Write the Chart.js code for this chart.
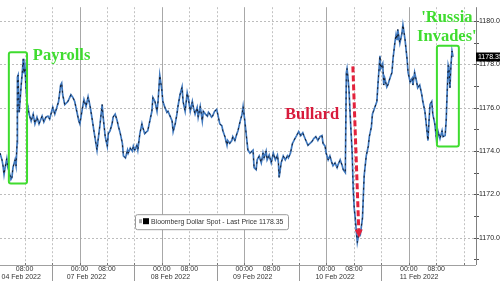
<!DOCTYPE html>
<html>
<head>
<meta charset="utf-8">
<script src="https://cdn.jsdelivr.net/npm/chart.js@4.4.1/dist/chart.umd.min.js"></script>
<style>
  html, body { margin: 0; padding: 0; background: #fff; }
  #wrap { width: 500px; height: 281px; }
</style>
</head>
<body>
<div id="wrap"><canvas id="chart" width="500" height="281"></canvas></div>
<script>
// hours counted in trading time from 04 Feb 2022 00:00 (weekend skipped)
const hours = [
  0.8, 1.4, 1.7, 2.0, 2.3, 2.8, 3.1, 3.4, 4.0, 4.3, 4.6, 5.2, 5.5, 5.8, 5.9, 6.1, 6.4, 6.7, 7.0, 7.3,
  7.6, 7.8, 8.1, 8.4, 8.7, 9.3, 9.9, 10.5, 11.0, 11.6, 12.2, 13.1, 13.6, 14.2, 14.8,
  15.3, 16.2, 16.8, 17.4, 17.9, 18.5, 18.8, 19.1, 19.7, 20.6, 21.5, 22.1, 22.6, 23.2, 23.8, 24.1, 24.7, 25.3, 25.9, 26.5,
  27.1, 27.6, 28.2, 29.1, 29.4, 30.0, 30.6, 30.9, 31.5, 32.1, 32.4, 32.9, 33.5, 33.8, 34.4, 35.0, 35.3, 35.9, 36.5, 36.8,
  37.4, 38.0, 38.2, 38.8, 39.4, 39.7,
  40.1, 40.7, 41.0, 41.6, 42.2, 42.4, 43.0, 43.6, 43.9, 44.5, 45.1, 45.4, 46.0, 46.6, 46.9, 47.4, 48.0, 48.3, 48.9, 49.5,
  49.8, 50.4, 51.0, 51.3, 51.9, 52.4, 52.7, 53.3, 53.9, 54.2, 54.8, 55.4, 55.7, 56.3, 56.9, 57.2, 57.7, 58.3, 58.6, 59.2,
  59.8, 60.1, 60.7, 61.3, 61.6,
  62.0, 62.5, 62.8, 63.4, 64.0, 64.3, 64.9, 65.5, 65.8, 66.4, 67.0, 67.2, 67.8, 68.4, 68.7, 69.3, 69.9, 70.2, 70.8, 71.4,
  71.7, 72.2, 72.8, 73.1, 73.7, 74.6, 74.9, 75.5, 75.8, 76.4, 77.0, 77.5, 77.8, 78.4, 78.7, 79.3, 79.9, 80.5, 81.1, 81.7,
  82.0, 82.2, 82.8, 83.4, 84.0, 84.6, 84.9, 85.5, 86.1, 86.4,
  86.8, 87.3, 87.6, 87.9, 88.5, 89.1, 89.4, 90.0, 90.6, 91.2, 91.8, 92.3, 92.9, 93.5, 94.1, 94.7, 95.0, 95.6, 95.9, 96.5,
  97.0, 97.6, 97.9, 98.5, 99.1, 99.4, 100.0, 100.6, 100.9, 101.5, 101.8, 102.0, 102.3, 102.6, 102.9, 103.2, 103.5, 103.8, 104.1, 104.4,
  104.7, 105.0, 105.6, 105.9, 106.5, 106.8, 107.0, 107.6, 108.2, 108.5, 109.1, 109.4, 109.7,
  110.7, 111.0, 111.6, 111.8, 112.4, 112.7, 113.0, 113.6, 113.9, 114.5, 115.1, 115.4, 116.0, 116.3, 116.6, 116.8, 117.4, 118.0, 118.3, 118.9,
  119.5, 119.8, 120.4, 121.0,
  121.2, 121.7, 122.3, 122.6, 123.2, 123.8, 124.1, 124.7, 125.3, 125.6, 125.9, 126.2, 126.7, 127.0, 127.6, 128.2, 128.5, 129.1, 129.7, 130.0,
  130.6, 130.9, 131.2, 131.5, 131.7, 132.0, 132.3, 132.6, 132.9
];
const price = [
  1173.90, 1173.59, 1173.32, 1172.92, 1173.23, 1173.64, 1173.23, 1173.10, 1172.69, 1172.78, 1173.23, 1173.59, 1173.32, 1174.35, 1177.40, 1177.49, 1175.78, 1176.37, 1177.04, 1177.58,
  1178.25, 1177.58, 1177.85, 1176.91, 1176.28, 1175.70, 1175.38, 1175.70, 1175.25, 1175.56, 1175.25, 1175.61, 1175.34, 1175.56, 1175.61,
  1175.47, 1176.01, 1175.70, 1176.01, 1176.28, 1177.04, 1177.13, 1176.59, 1176.14, 1176.28, 1176.59, 1176.46, 1176.28, 1175.83, 1175.38, 1175.25, 1175.83, 1176.37, 1176.05, 1176.50,
  1176.05, 1175.56, 1174.93, 1174.04, 1174.48, 1175.25, 1176.14, 1175.56, 1174.66, 1174.22, 1174.80, 1174.93, 1175.25, 1175.56, 1175.70, 1175.38, 1175.16, 1174.80, 1174.35, 1173.77,
  1173.68, 1174.04, 1173.90, 1174.13, 1173.99, 1174.22,
  1174.04, 1174.26, 1174.04, 1174.80, 1175.25, 1175.11, 1174.80, 1174.89, 1174.93, 1175.38, 1175.83, 1176.46, 1176.28, 1175.83, 1176.28, 1177.49, 1176.82, 1176.28, 1176.01, 1175.78,
  1175.83, 1175.61, 1175.38, 1174.89, 1175.25, 1175.70, 1176.05, 1176.59, 1176.95, 1176.28, 1175.83, 1176.68, 1176.46, 1175.83, 1176.28, 1176.01, 1175.70, 1176.01, 1175.56, 1176.05,
  1175.38, 1175.83, 1175.70, 1175.61, 1175.78,
  1175.70, 1175.56, 1175.61, 1175.83, 1175.92, 1175.70, 1175.25, 1175.16, 1174.93, 1174.66, 1174.26, 1174.48, 1174.35, 1174.48, 1174.66, 1174.48, 1174.80, 1174.93, 1175.34, 1175.70,
  1176.05, 1175.38, 1174.48, 1174.04, 1173.90, 1174.04, 1173.23, 1173.14, 1173.59, 1173.77, 1173.45, 1173.90, 1173.68, 1173.99, 1173.59, 1173.81, 1173.45, 1173.90, 1173.59, 1173.81,
  1173.45, 1172.78, 1173.45, 1173.77, 1173.59, 1173.77, 1173.68, 1173.90, 1174.35, 1174.44,
  1174.57, 1174.71, 1174.80, 1174.89, 1174.71, 1174.84, 1174.71, 1174.48, 1174.26, 1174.35, 1174.44, 1174.57, 1174.66, 1174.48, 1174.66, 1174.71, 1174.35, 1174.22, 1173.90, 1173.59,
  1173.77, 1173.45, 1173.32, 1173.45, 1173.23, 1173.37, 1173.59, 1173.32, 1173.14, 1173.00, 1177.62, 1177.80, 1177.35, 1176.73, 1175.70, 1174.80, 1173.90, 1172.24, 1171.35, 1170.90,
  1170.31, 1169.78, 1170.31, 1170.18, 1170.90, 1172.11, 1172.87, 1173.77, 1174.22, 1174.66, 1175.11, 1175.70, 1175.83,
  1176.28, 1177.04, 1178.39, 1177.80, 1178.03, 1177.04, 1177.35, 1176.95, 1177.04, 1177.35, 1177.62, 1178.25, 1179.06, 1179.37, 1179.15, 1179.60, 1178.97, 1179.42, 1179.82, 1179.15,
  1178.25, 1177.62, 1177.18, 1177.35,
  1177.04, 1177.62, 1177.18, 1176.91, 1177.04, 1176.59, 1176.28, 1175.83, 1174.93, 1174.48, 1175.38, 1176.14, 1176.28, 1175.70, 1175.25, 1174.35, 1174.93, 1174.57, 1174.93, 1174.66,
  1174.71, 1175.38, 1176.73, 1177.94, 1177.80, 1176.91, 1177.94, 1178.61, 1178.35
];
const lastPrice = 1178.35;
const seriesName = 'Bloomberg Dollar Spot - Last Price';

const yTicks = [1169, 1170, 1171, 1172, 1173, 1174, 1175, 1176, 1177, 1178, 1179, 1180];
const timeTicks = [8, 16, 24, 32, 40, 48, 56, 64, 72, 80, 88, 96, 104, 112, 120, 128, 136];
const dateTicks = [7, 26, 50.5, 74.5, 98.5, 123];
const dateLabels = ['04 Feb 2022', '07 Feb 2022', '08 Feb 2022', '09 Feb 2022', '10 Feb 2022', '11 Feb 2022'];
const sessionBreaks = [16, 40, 64, 88, 112];

// annotations, in data units
const payrollBox = { x0: 3.4, x1: 8.7, y0: 1172.5, y1: 1178.55 };
const russiaBox = { x0: 128.2, x1: 134.6, y0: 1174.2, y1: 1178.85 };
const bullardArrow = { x0: 103.7, y0: 1177.9, x1: 105.5, y1: 1170.0 };
const textNotes = [
  { text: 'Payrolls', x: 10.4, y: 1178.21, align: 'left', color: '#3fdc2f' },
  { text: 'Bullard', x: 83.9, y: 1175.47, align: 'left', color: '#d81b3c' },
  { text: "'Russia", x: 131.1, y: 1179.96, align: 'center', color: '#3fdc2f' },
  { text: "Invades'", x: 131.1, y: 1179.06, align: 'center', color: '#3fdc2f' }
];

const FONT = "'Liberation Sans', Arial, sans-serif";
const GREEN = '#3fdc2f';
const RED = '#e3223c';

const points = hours.map((h, i) => ({ x: h, y: price[i] }));

function roundRect(ctx, x, y, w, h, r) {
  ctx.beginPath();
  ctx.moveTo(x + r, y);
  ctx.arcTo(x + w, y, x + w, y + h, r);
  ctx.arcTo(x + w, y + h, x, y + h, r);
  ctx.arcTo(x, y + h, x, y, r);
  ctx.arcTo(x, y, x + w, y, r);
  ctx.closePath();
}

function line(ctx, x0, y0, x1, y1, color, dash) {
  ctx.strokeStyle = color;
  ctx.setLineDash(dash);
  ctx.beginPath();
  ctx.moveTo(x0, y0);
  ctx.lineTo(x1, y1);
  ctx.stroke();
}

// grid, axis lines and tick marks, placed with the chart's scales
const gridLines = {
  id: 'gridLines',
  beforeDatasetsDraw(chart) {
    const { ctx, chartArea: a } = chart;
    const xs = chart.scales.x, ys = chart.scales.y;
    ctx.save();
    ctx.lineWidth = 1;
    yTicks.forEach(v => {
      const py = Math.round(ys.getPixelForValue(v)) + 0.5;
      if (v % 2 === 0) line(ctx, a.left, py, a.right, py, '#bdbdbd', [2, 2]);
      line(ctx, a.right - 2, py, a.right + 3, py, '#555', []);
    });
    timeTicks.forEach(h => {
      const px = Math.round(xs.getPixelForValue(h)) + 0.5;
      if (h % 24 === 0) line(ctx, px, a.top, px, a.bottom, '#a8a8a8', []);
      else line(ctx, px, a.top, px, a.bottom, '#c2c2c2', [2, 2]);
      line(ctx, px, a.bottom - 2, px, a.bottom + 1, '#777', []);
    });
    sessionBreaks.forEach(h => {
      const px = Math.round(xs.getPixelForValue(h)) + 0.5;
      line(ctx, px, a.bottom, px, chart.height, '#9a9a9a', []);
    });
    line(ctx, a.left, a.bottom + 0.5, a.right, a.bottom + 0.5, '#a0a0a0', []);
    line(ctx, a.right + 0.5, a.top, a.right + 0.5, a.bottom, '#808080', []);
    ctx.restore();
  }
};

const extras = {
  id: 'extras',
  afterDraw(chart) {
    const { ctx, chartArea } = chart;
    const xs = chart.scales.x, ys = chart.scales.y;
    ctx.save();

    // green boxes
    ctx.strokeStyle = GREEN;
    ctx.lineWidth = 2;
    [payrollBox, russiaBox].forEach(b => {
      const x0 = xs.getPixelForValue(b.x0), x1 = xs.getPixelForValue(b.x1);
      const y0 = ys.getPixelForValue(b.y1), y1 = ys.getPixelForValue(b.y0);
      roundRect(ctx, x0, y0, x1 - x0, y1 - y0, 2);
      ctx.stroke();
    });

    // red dashed arrow
    const ax0 = xs.getPixelForValue(bullardArrow.x0), ay0 = ys.getPixelForValue(bullardArrow.y0);
    const ax1 = xs.getPixelForValue(bullardArrow.x1), ay1 = ys.getPixelForValue(bullardArrow.y1);
    const len = Math.hypot(ax1 - ax0, ay1 - ay0);
    const ux = (ax1 - ax0) / len, uy = (ay1 - ay0) / len;
    ctx.lineWidth = 3;
    line(ctx, ax0, ay0, ax1 - ux * 6, ay1 - uy * 6, RED, [6, 3]);
    ctx.setLineDash([]);
    ctx.fillStyle = RED;
    ctx.beginPath();
    ctx.moveTo(ax1, ay1);
    ctx.lineTo(ax1 - ux * 8 - uy * 4, ay1 - uy * 8 + ux * 4);
    ctx.lineTo(ax1 - ux * 8 + uy * 4, ay1 - uy * 8 - ux * 4);
    ctx.closePath();
    ctx.fill();

    // annotation texts
    ctx.font = "bold 16.5px 'Liberation Serif', 'DejaVu Serif', serif";
    ctx.textBaseline = 'alphabetic';
    textNotes.forEach(t => {
      ctx.fillStyle = t.color;
      ctx.textAlign = t.align;
      ctx.fillText(t.text, xs.getPixelForValue(t.x), ys.getPixelForValue(t.y));
    });

    // legend box
    const lx = chartArea.left + 135, ly = chartArea.top + 207;
    ctx.fillStyle = '#fff';
    ctx.strokeStyle = '#9a9a9a';
    ctx.lineWidth = 1;
    roundRect(ctx, lx + 0.5, ly + 0.5, 153, 15, 2);
    ctx.fill();
    ctx.stroke();
    ctx.fillStyle = '#a8a8a8';
    ctx.fillRect(lx + 4, ly + 5, 3, 4);
    ctx.fillStyle = '#000';
    ctx.fillRect(lx + 8, ly + 4, 6, 6);
    ctx.fillStyle = '#333';
    ctx.font = '6.9px ' + FONT;
    ctx.textAlign = 'left';
    ctx.textBaseline = 'middle';
    ctx.fillText(seriesName + ' ' + lastPrice.toFixed(2), lx + 16, ly + 8);

    // last price tag
    const py = ys.getPixelForValue(lastPrice);
    ctx.fillStyle = '#000';
    ctx.fillRect(chartArea.right, Math.round(py) - 4.5, chart.width - chartArea.right, 9);
    ctx.fillStyle = '#fff';
    ctx.font = '7px ' + FONT;
    ctx.fillText(lastPrice.toFixed(2), chartArea.right + 2, py);

    ctx.restore();
  }
};

new Chart(document.getElementById('chart'), {
  type: 'line',
  data: {
    datasets: [
      { data: points, borderColor: '#111118', borderWidth: 0.9, borderDash: [2, 4], pointRadius: 0, tension: 0, order: 1 },
      { data: points, borderColor: '#3f78be', borderWidth: 1.7, pointRadius: 0, tension: 0, order: 2 }
    ]
  },
  options: {
    responsive: false,
    animation: false,
    layout: { padding: 0 },
    plugins: { legend: { display: false }, tooltip: { enabled: false } },
    scales: {
      x: {
        type: 'linear',
        position: 'bottom',
        weight: 0,
        min: 0.82,
        max: 139.6,
        afterBuildTicks: s => { s.ticks = timeTicks.map(v => ({ value: v })); },
        afterFit: s => { s.height = 8; s.paddingLeft = 0; s.paddingRight = 0; },
        ticks: {
          autoSkip: false,
          maxRotation: 0,
          padding: 0,
          color: '#333',
          font: { family: FONT, size: 7 },
          callback: v => (v % 24 === 0 ? '00:00' : v % 24 === 8 ? '08:00' : '')
        },
        grid: { display: false, drawTicks: false },
        border: { display: false }
      },
      xd: {
        type: 'linear',
        position: 'bottom',
        weight: 1,
        min: 0.82,
        max: 139.6,
        afterBuildTicks: s => { s.ticks = dateTicks.map(v => ({ value: v })); },
        afterFit: s => { s.height = 8; s.paddingLeft = 0; s.paddingRight = 0; },
        ticks: {
          autoSkip: false,
          maxRotation: 0,
          padding: 0,
          color: '#333',
          font: { family: FONT, size: 7 },
          callback: (v, i) => dateLabels[i]
        },
        grid: { display: false, drawTicks: false },
        border: { display: false }
      },
      y: {
        type: 'linear',
        position: 'right',
        min: 1168.74,
        max: 1180.63,
        afterBuildTicks: s => { s.ticks = yTicks.map(v => ({ value: v })); },
        afterFit: s => { s.width = 24; },
        ticks: {
          padding: 3,
          color: '#222',
          font: { family: FONT, size: 7 },
          callback: v => (v % 2 === 0 ? v.toFixed(2) : '')
        },
        grid: { display: false, drawTicks: false },
        border: { display: false }
      }
    }
  },
  plugins: [gridLines, extras]
});
</script>
</body>
</html>
